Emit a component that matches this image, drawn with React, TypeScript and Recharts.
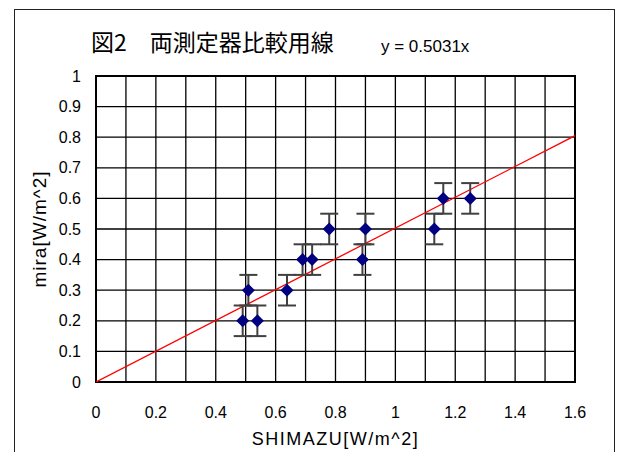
import React from 'react';
import {
  ComposedChart, XAxis, YAxis, CartesianGrid, Scatter, Line, ErrorBar, ReferenceArea,
} from 'recharts';

const shimazu = [0.49, 0.539, 0.509, 0.638, 0.69, 0.722, 0.779, 0.89, 0.90, 1.13, 1.16, 1.25];
const mira = [0.2, 0.2, 0.3, 0.3, 0.4, 0.4, 0.5, 0.4, 0.5, 0.5, 0.6, 0.6];
const errors = [0.05, 0.05, 0.05, 0.05, 0.05, 0.05, 0.05, 0.05, 0.05, 0.05, 0.05, 0.05];
const slope = 0.5031;
const trendX = [0, 1.6];
const xTicks = [0, 0.1, 0.2, 0.3, 0.4, 0.5, 0.6, 0.7, 0.8, 0.9, 1, 1.1, 1.2, 1.3, 1.4, 1.5, 1.6];
const yTicks = [0, 0.1, 0.2, 0.3, 0.4, 0.5, 0.6, 0.7, 0.8, 0.9, 1];

const points = shimazu.map((x, i) => ({ x, y: mira[i], err: errors[i] }));
const trend = trendX.map((x) => ({ x, t: slope * x }));

const font = '"Liberation Sans", Arial, sans-serif';

const Diamond = (props: any) => {
  const { cx, cy } = props;
  if (cx == null || cy == null) return null;
  const r = 6.5;
  return (
    <polygon
      points={`${cx},${cy - r} ${cx + r},${cy} ${cx},${cy + r} ${cx - r},${cy}`}
      fill="#000080"
    />
  );
};

export default function App() {
  return (
    <div style={{ position: 'absolute', left: 0, top: 0, width: 617, height: 452, background: '#fff', overflow: 'hidden' }}>
      <div style={{ position: 'absolute', left: 14, top: 9, width: 601, height: 460, border: '1.5px solid #222', boxSizing: 'border-box' }} />
      <div style={{ position: 'absolute', left: 91, top: 27, fontFamily: '"Noto Sans CJK JP", sans-serif', fontSize: 23, color: '#000', whiteSpace: 'pre', lineHeight: '28px' }}>
        図2　両測定器比較用線
      </div>
      <div style={{ position: 'absolute', left: 381, top: 37, fontFamily: font, fontSize: 17, color: '#000', whiteSpace: 'pre', lineHeight: '20px' }}>
        y = 0.5031x
      </div>
      <div style={{ position: 'absolute', left: 0, top: 0 }}>
        <ComposedChart width={617} height={452} margin={{ top: 76, right: 42, bottom: 0, left: 14 }}>
          <CartesianGrid stroke="#000" strokeWidth={1.3} />
          <XAxis
            type="number"
            dataKey="x"
            domain={[0, 1.6]}
            ticks={xTicks}
            interval={0}
            tickFormatter={(v: number, i: number) => (i % 2 === 0 ? String(v) : '')}
            tickLine={false}
            axisLine={false}
            tickSize={0}
            tickMargin={25}
            height={70}
            tick={{ fill: '#000', fontSize: 16, fontFamily: font }}
            allowDataOverflow
            label={{ value: 'SHIMAZU[W/m^2]', position: 'insideBottom', offset: 7, style: { fill: '#000', fontSize: 18, fontFamily: font, letterSpacing: 1.5 } }}
          />
          <YAxis
            type="number"
            dataKey="y"
            domain={[0, 1]}
            ticks={yTicks}
            interval={0}
            tickLine={false}
            axisLine={false}
            tickSize={0}
            tickMargin={15}
            width={82}
            tick={{ fill: '#000', fontSize: 16, fontFamily: font }}
            allowDataOverflow
            label={{
              content: (p: any) => {
                const vb = p.viewBox || {};
                const x = (vb.x ?? 14) + 25;
                const y = (vb.y ?? 76) + (vb.height ?? 306) / 2;
                return (
                  <text x={x} y={y} transform={`rotate(-90, ${x}, ${y})`} textAnchor="middle" dominantBaseline="central" fill="#000" fontSize={19} fontFamily={font} letterSpacing={1}>
                    mira[W/m^2]
                  </text>
                );
              },
            }}
          />
          <ReferenceArea x1={0} x2={1.6} y1={0} y2={1} fill="none" stroke="#000" strokeWidth={2} ifOverflow="visible" />
          <Line data={trend} dataKey="t" stroke="#ff0000" strokeWidth={1.3} dot={false} isAnimationActive={false} />
          <Scatter data={points} dataKey="y" shape={Diamond} isAnimationActive={false}>
            <ErrorBar dataKey="err" direction="y" width={9} stroke="#404040" strokeWidth={2} isAnimationActive={false} />
          </Scatter>
        </ComposedChart>
      </div>
    </div>
  );
}
